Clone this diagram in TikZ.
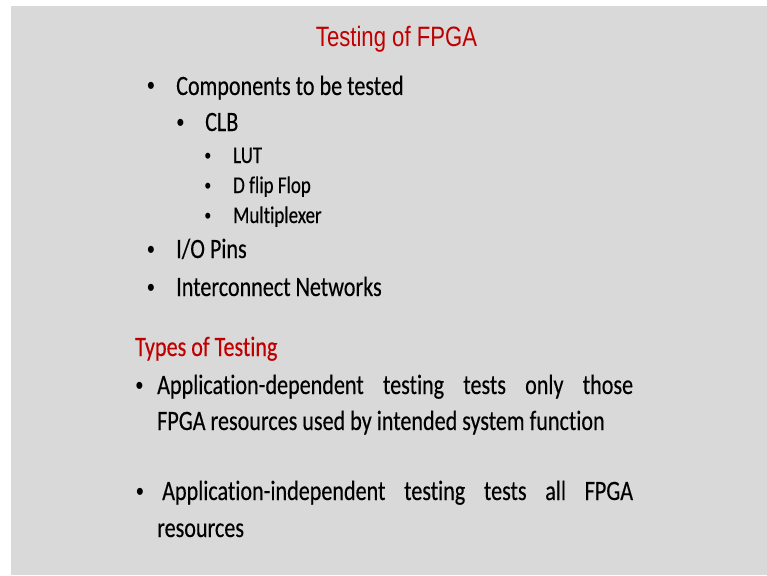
\documentclass[tikz,border=0pt]{standalone}
\usepackage{fontspec}
\setmainfont{Carlito}[FakeStretch=0.79, FakeBold=0.3, RawFeature={-liga}]
\newfontfamily\headfont{Liberation Sans}[FakeStretch=0.79]
\newfontfamily\dotfont{Liberation Sans}[FakeStretch=0.85]
\definecolor{slidebg}{RGB}{217,217,217}
\definecolor{slidered}{RGB}{192,0,0}
\tikzset{
  txt/.style={anchor=base west, inner sep=0pt, font=\fontsize{28}{28}\selectfont},
  small/.style={anchor=base west, inner sep=0pt, font=\fontsize{24}{24}\selectfont},
  dotA/.style={anchor=base, inner sep=0pt, font=\dotfont\fontsize{26}{26}\selectfont},
  dotB/.style={anchor=base, inner sep=0pt, font=\dotfont\fontsize{22}{22}\selectfont},
  heading/.style={anchor=base, inner sep=0pt, text=slidered, font=\headfont\fontsize{28}{28}\selectfont},
}
\begin{document}
\begin{tikzpicture}[x=1pt,y=-1pt]
\useasboundingbox (0,0) rectangle (767,575);
% slide area
\fill[white] (0,0) rectangle (767,575);
\fill[slidebg] (11,6) rectangle (767,575);

% title
\node[heading] (title) at (396.5,47) {Testing of FPGA};

% components list
\node[dotA] (b1) at (151,95) {•};
\node[txt] (comp) at (176,95) {Components to be tested};
\node[dotA] (b2) at (180.5,131) {•};
\node[txt] (clb) at (205,131) {CLB};
\node[dotB] (b3) at (208,163) {•};
\node[small] (lut) at (233,163) {LUT};
\node[dotB] (b4) at (208,193) {•};
\node[small] (dff) at (233,193) {D flip Flop};
\node[dotB] (b5) at (208,223) {•};
\node[small] (mux) at (233,223) {Multiplexer};
\node[dotA] (b6) at (151,258) {•};
\node[txt] (io) at (176,258) {I/O Pins};
\node[dotA] (b7) at (151,296) {•};
\node[txt] (net) at (176,296) {Interconnect Networks};

% types of testing
\node[txt, text=slidered] (types) at (135,356) {Types of Testing};
\node[dotA] (b8) at (139.5,394) {•};
\node[txt] (dep1) at (157,394) {\makebox[476pt][s]{Application-dependent testing tests only those}};
\node[txt] (dep2) at (157,430) {FPGA resources used by intended system function};
\node[dotA] (b9) at (140,500) {•};
\node[txt] (ind1) at (162,500) {\makebox[471pt][s]{Application-independent testing tests all FPGA}};
\node[txt] (ind2) at (157,537) {resources};
\end{tikzpicture}
\end{document}
